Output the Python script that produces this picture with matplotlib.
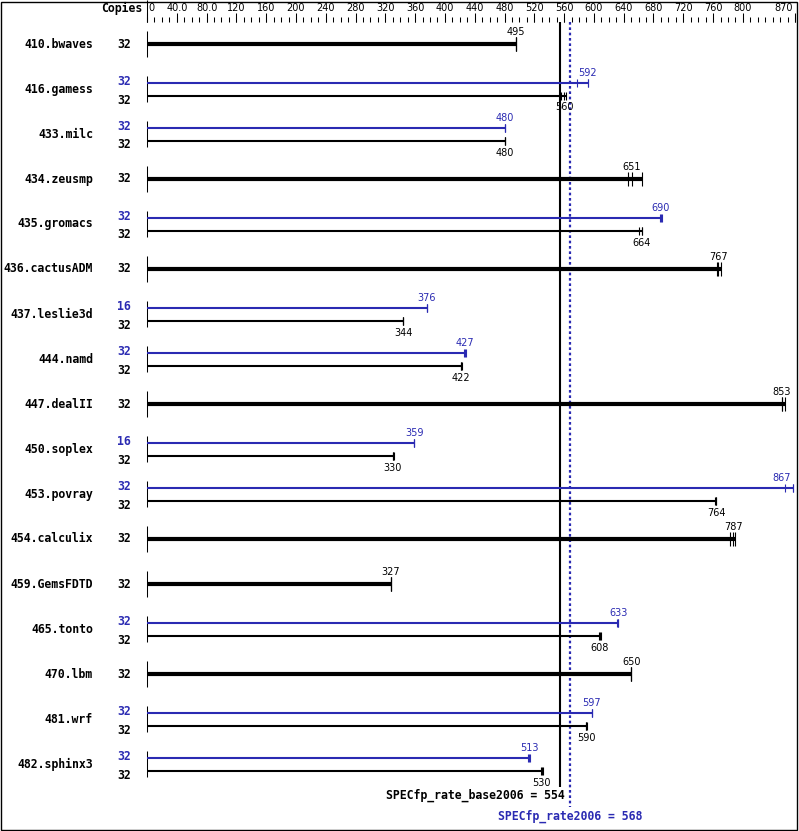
import numpy as np
import matplotlib
matplotlib.use("Agg")
import matplotlib.pyplot as plt
import matplotlib.patches as patches

# benchmark data (SPECfp_rate2006)
benchmarks = ["410.bwaves", "416.gamess", "433.milc", "434.zeusmp", "435.gromacs",
              "436.cactusADM", "437.leslie3d", "444.namd", "447.dealII", "450.soplex",
              "453.povray", "454.calculix", "459.GemsFDTD", "465.tonto", "470.lbm",
              "481.wrf", "482.sphinx3"]
base_copies = [32, 32, 32, 32, 32, 32, 32, 32, 32, 32, 32, 32, 32, 32, 32, 32, 32]
peak_copies = [None, 32, 32, None, 32, None, 16, 32, None, 16, 32, None, None, 32, None, 32, 32]
base_score = [495, 560, 480, 651, 664, 767, 344, 422, 853, 330, 764, 787, 327, 608, 650, 590, 530]
peak_score = [None, 592, 480, None, 690, None, 376, 427, None, 359, 867, None, None, 633, None, 597, 513]
base_runs = [[495, 495, 496], [556, 560, 563], [480, 480, 480], [646, 651, 664],
             [661, 664, 664], [765, 767, 770], [344, 344, 344], [422, 422, 423],
             [852, 853, 856], [330, 330, 331], [762, 764, 764], [783, 787, 789],
             [327, 327, 327], [607, 608, 609], [650, 650, 650], [589, 590, 591],
             [529, 530, 531]]
peak_runs = [None, [577, 592, 592], [480, 480, 480], None, [689, 690, 691], None,
             [376, 376, 376], [426, 427, 428], None, [359, 359, 359], [857, 867, 867],
             None, None, [631, 633, 633], None, [597, 597, 597], [512, 513, 514]]
base_mean = 554
peak_mean = 568
major_ticks = [0, 40, 80, 120, 160, 200, 240, 280, 320, 360, 400, 440, 480, 520,
               560, 600, 640, 680, 720, 760, 800, 870]
tick_labels = ["0", "40.0", "80.0", "120", "160", "200", "240", "280", "320", "360",
               "400", "440", "480", "520", "560", "600", "640", "680", "720", "760",
               "800", "870"]

BLUE = "#2a2ab2"
W, H = 799, 831
ROW = 45.0
X0, X1 = 147, 795


def ypx(p):
    # pixel from top -> row units
    return (p - 44) / ROW


def xfrac(p):
    return (p - X0) / (X1 - X0)


def label_x(v):
    # keep value labels inside the picture
    return min(v, 852)


MONO = "DejaVu Sans Mono"
BFS = 8.3
VFS = 7.0

fig = plt.figure(figsize=(W / 100, H / 100), dpi=100)
ax = fig.add_axes([X0 / W, 0, (X1 - X0) / W, 1])
ax.set_xlim(0, 870)
ax.set_ylim(ypx(H), ypx(0))
ax.axis("off")
ytr = ax.get_yaxis_transform()

# scale on top
minor = np.arange(0, 871, 10)
ax.vlines(minor, ypx(17.5), ypx(22), color="black", lw=0.75, clip_on=False)
ax.vlines(major_ticks, ypx(13), ypx(22), color="black", lw=0.75, clip_on=False)
ax.vlines(0, ypx(0), ypx(22), color="black", lw=0.75, clip_on=False)
for v, lab in zip(major_ticks, tick_labels):
    ha = "center"
    xv = v
    if v == 0:
        ha, xv = "left", 2.5
    elif v == 870:
        ha, xv = "right", 867
    ax.text(xv, ypx(8), lab, ha=ha, va="center", fontsize=VFS, family="DejaVu Sans")
ax.text(xfrac(142), ypx(8), "Copies", transform=ytr, ha="right", va="center",
        fontsize=BFS, family=MONO, fontweight="bold")

# mean lines
ax.vlines(base_mean, ypx(22), ypx(787), color="black", lw=1.5, zorder=1)
ax.vlines(peak_mean, ypx(22), ypx(807), color=BLUE, lw=1.6, linestyles=(0, (1.2, 1.2)), zorder=1)
ax.text(xfrac(565), ypx(795), f"SPECfp_rate_base2006 = {base_mean}", transform=ytr,
        ha="right", va="center", fontsize=BFS, family=MONO, fontweight="bold")
ax.text(peak_mean, ypx(816), f"SPECfp_rate2006 = {peak_mean}", ha="center", va="center",
        fontsize=BFS, family=MONO, fontweight="bold", color=BLUE)

for i, name in enumerate(benchmarks):
    ax.vlines(0, i - 13 / ROW, i + 13 / ROW, color="black", lw=0.75, clip_on=False)
    ax.text(xfrac(93), i, name, transform=ytr, ha="right", va="center",
            fontsize=BFS, family=MONO, fontweight="bold")
    if peak_score[i] is None:
        runs = base_runs[i]
        ax.hlines(i, 0, max(runs), color="black", lw=3.0, zorder=3)
        ax.vlines(runs, i - 7 / ROW, i + 7 / ROW, color="black", lw=0.8, zorder=3)
        ax.text(label_x(base_score[i]), i - 12 / ROW, str(base_score[i]), ha="center",
                va="center", fontsize=VFS, family="DejaVu Sans")
        ax.text(xfrac(131), i, str(base_copies[i]), transform=ytr, ha="right", va="center",
                fontsize=BFS, family=MONO, fontweight="bold")
    else:
        yp = i - 6 / ROW
        yb = i + 7 / ROW
        runs = peak_runs[i]
        ax.hlines(yp, 0, max(runs), color=BLUE, lw=1.5, zorder=3)
        ax.vlines(runs, yp - 4 / ROW, yp + 4 / ROW, color=BLUE, lw=0.8, zorder=3)
        ax.text(label_x(peak_score[i]), yp - 10 / ROW, str(peak_score[i]), ha="center",
                va="center", fontsize=VFS, family="DejaVu Sans", color=BLUE)
        runs = base_runs[i]
        ax.hlines(yb, 0, max(runs), color="black", lw=1.5, zorder=3)
        ax.vlines(runs, yb - 4 / ROW, yb + 4 / ROW, color="black", lw=0.8, zorder=3)
        ax.text(label_x(base_score[i]), yb + 11.5 / ROW, str(base_score[i]), ha="center",
                va="center", fontsize=VFS, family="DejaVu Sans")
        ax.text(xfrac(131), i - 7.5 / ROW, str(peak_copies[i]), transform=ytr, ha="right",
                va="center", fontsize=BFS, family=MONO, fontweight="bold", color=BLUE)
        ax.text(xfrac(131), i + 11 / ROW, str(base_copies[i]), transform=ytr, ha="right",
                va="center", fontsize=BFS, family=MONO, fontweight="bold")

# frame round the whole picture
fig.add_artist(patches.Rectangle((1 / W, 1.5 / H), 796 / W, 828 / H, transform=fig.transFigure,
                                 fill=False, edgecolor="black", lw=1.0))

fig.savefig("out.png", dpi=100)
